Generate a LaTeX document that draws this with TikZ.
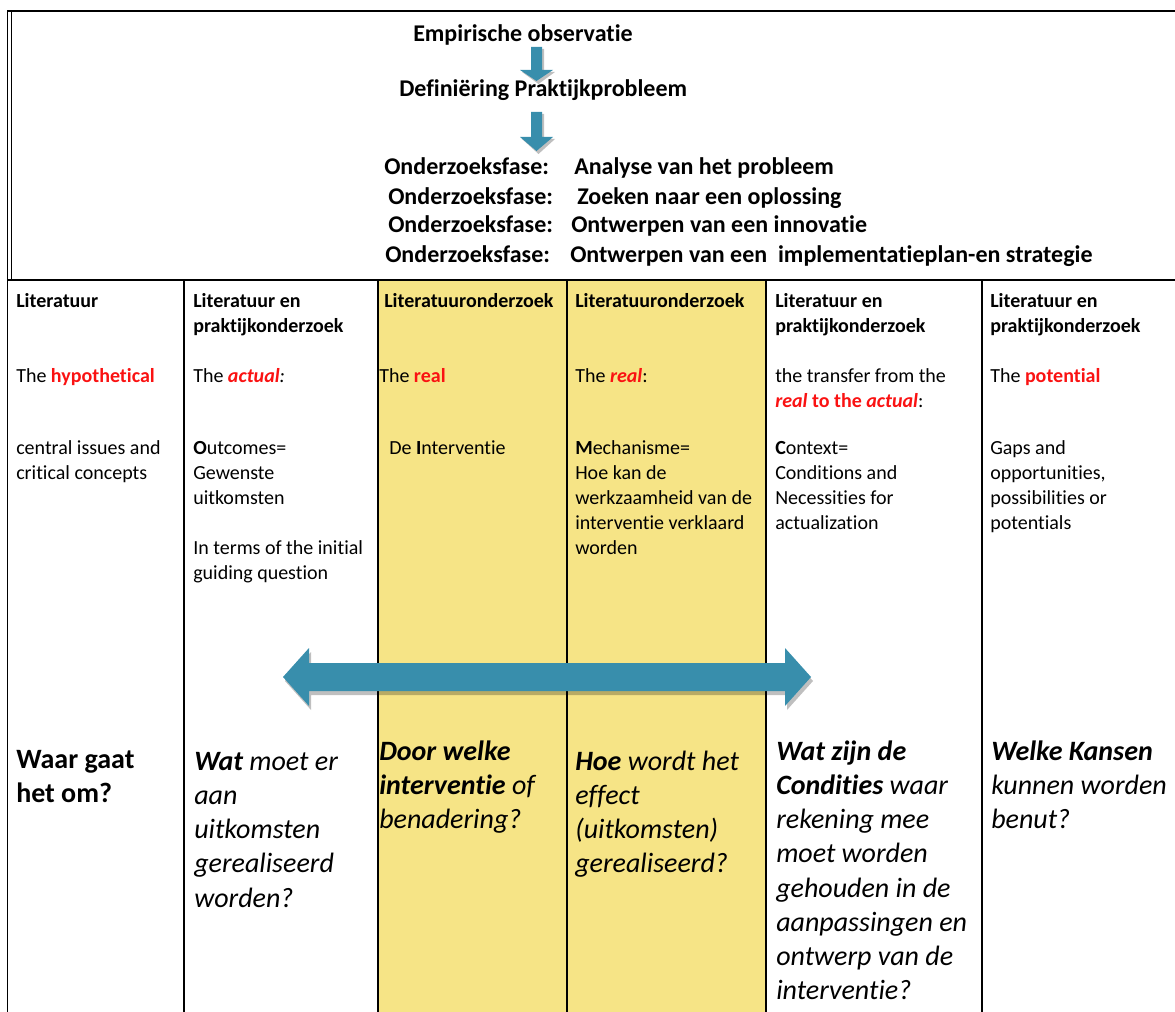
\documentclass[tikz,border=0pt]{standalone}
\usepackage{fontspec}
\setmainfont{Carlito}[Ligatures={NoCommon,NoContextual}]
\usetikzlibrary{positioning}

\definecolor{cellyellow}{RGB}{246,228,134}
\definecolor{arrowteal}{RGB}{56,142,172}
\definecolor{hlred}{RGB}{250,18,18}

\newcommand{\redb}[1]{\textcolor{hlred}{\textbf{#1}}}
\newcommand{\redbi}[1]{\textcolor{hlred}{\textbf{\textit{#1}}}}

\begin{document}
\begin{tikzpicture}[x=0.75pt,y=-0.75pt,line join=miter,
  rule/.style={line width=1pt},
  cell/.style={anchor=base west,inner sep=0pt,align=flush left,text width=150pt,
    font=\fontsize{15}{18.75}\selectfont},
  ask/.style={anchor=base west,inner sep=0pt,align=flush left,text width=150pt,
    font=\fontsize{21}{25.7}\selectfont\itshape},
  phase/.style={anchor=base west,inner sep=0pt,
    font=\fontsize{18}{22}\selectfont\bfseries},
  blockarrow/.style={fill=arrowteal},
  arrowshade/.style={fill=black,opacity=.25}]

\useasboundingbox (0,0) rectangle (1175,1012);

%% ---------------- the two yellow columns ------------------------------
\fill[cellyellow] (378,280) rectangle (766,1012);

%% ---------------- frame and column rules ------------------------------
\draw[rule] (7.5,1012) -- (7.5,11) -- (1175,11);
\draw[rule] (11.5,11) -- (11.5,280);
\draw[rule] (7.5,280) -- (1175,280);
\foreach \xc in {184,378,567,766,982}
  \draw[rule] (\xc,280) -- (\xc,1012);

%% ---------------- top: from observation to the phases -----------------
\node[phase] (empObs)  at (413,42) {Empirische observatie};
\node[phase] (defProb) at (399,97) {Definiëring Praktijkprobleem};

\foreach \yt/\yb/\yp in {47/70/81, 112/137/151} {
  \fill[arrowshade] (533,\yt+2) -- (544,\yt+2) -- (544,\yb+2) -- (555,\yb+2)
     -- (538.5,\yp+3) -- (522,\yb+2) -- (533,\yb+2) -- cycle;
  \fill[blockarrow] (531,\yt) -- (542,\yt) -- (542,\yb) -- (553,\yb)
     -- (536.5,\yp) -- (520,\yb) -- (531,\yb) -- cycle;
}

\node[phase] (phaseA) at (384,175) {Onderzoeksfase:};
\node[phase] (phaseAtxt) at (574,175) {Analyse van het probleem};
\node[phase] (phaseB) at (388,205) {Onderzoeksfase:};
\node[phase] (phaseBtxt) at (577,205) {Zoeken naar een oplossing};
\node[phase] (phaseC) at (388,233) {Onderzoeksfase:};
\node[phase] (phaseCtxt) at (571,233) {Ontwerpen van een innovatie};
\node[phase] (phaseD) at (385,263) {Onderzoeksfase:};
\node[phase] (phaseDtxt) at (570,263)
   {Ontwerpen van een\ \ implementatieplan-en strategie};

%% ---------------- header row ------------------------------------------
\node[cell] (headHyp) at (16,308)  {\textbf{Literatuur}};
\node[cell] (headAct) at (193,308) {\textbf{Literatuur en}\\\textbf{praktijkonderzoek}};
\node[cell] (headInt) at (384,308) {\textbf{Literatuuronderzoek}};
\node[cell] (headMech) at (575,308) {\textbf{Literatuuronderzoek}};
\node[cell] (headCon) at (775,308) {\textbf{Literatuur en}\\\textbf{praktijkonderzoek}};
\node[cell] (headPot) at (990,308) {\textbf{Literatuur en}\\\textbf{praktijkonderzoek}};

%% ---------------- kind of reality -------------------------------------
\node[cell] (kindHyp) at (16,383)  {The \redb{hypothetical}};
\node[cell] (kindAct) at (193,383) {The \redbi{actual}\textit{:}};
\node[cell] (kindInt) at (379,383) {The \redb{real}};
\node[cell] (kindMech) at (575,383) {The \redbi{real}:};
\node[cell] (kindCon) at (775,383)
   {the transfer from the\\\redbi{real} \redb{to the} \redbi{actual}:};
\node[cell] (kindPot) at (990,383) {The \redb{potential}};

%% ---------------- what is looked at -----------------------------------
\node[cell] (focusHyp) at (16,455) {central issues and\\critical concepts};
\node[cell] (focusAct) at (193,455)
   {\textbf{O}utcomes=\\Gewenste\\uitkomsten\\[18.75pt]In terms of the initial\\guiding question};
\node[cell] (focusInt) at (389,455) {De \textbf{I}nterventie};
\node[cell] (focusMech) at (575,455)
   {\textbf{M}echanisme=\\Hoe kan de\\werkzaamheid van de\\interventie verklaard\\worden};
\node[cell] (focusCon) at (775,455)
   {\textbf{C}ontext=\\Conditions and\\Necessities for\\actualization};
\node[cell] (focusPot) at (990,455)
   {Gaps and\\opportunities,\\possibilities or\\potentials};

%% ---------------- the double arrow across the columns -----------------
\fill[arrowshade] (285,681) -- (311,652) -- (311,667) -- (787,667) -- (787,652)
   -- (813,681) -- (787,710) -- (787,695) -- (311,695) -- (311,710) -- cycle;
\fill[blockarrow] (283,677) -- (309,648) -- (309,663) -- (785,663) -- (785,648)
   -- (811,677) -- (785,706) -- (785,691) -- (309,691) -- (309,706) -- cycle;

%% ---------------- the guiding questions -------------------------------
\node[ask] (askHyp) at (16,768) {\bfseries\upshape Waar gaat\\het om?};
\node[ask] (askAct) at (194,770)
   {\textbf{Wat} moet er\\aan\\uitkomsten\\gerealiseerd\\worden?};
\node[ask] (askInt) at (379,760)
   {\textbf{Door welke}\\\textbf{interventie} of\\benadering?};
\node[ask] (askMech) at (575,770)
   {\textbf{Hoe} wordt het\\effect\\(uitkomsten)\\gerealiseerd?};
\node[ask] (askCon) at (776,760)
   {\textbf{Wat zijn de}\\\textbf{Condities} waar\\rekening mee\\moet worden\\gehouden in de\\aanpassingen en\\ontwerp van de\\interventie?};
\node[ask] (askPot) at (991,760)
   {\textbf{Welke Kansen}\\kunnen worden\\benut?};

\end{tikzpicture}
\end{document}
